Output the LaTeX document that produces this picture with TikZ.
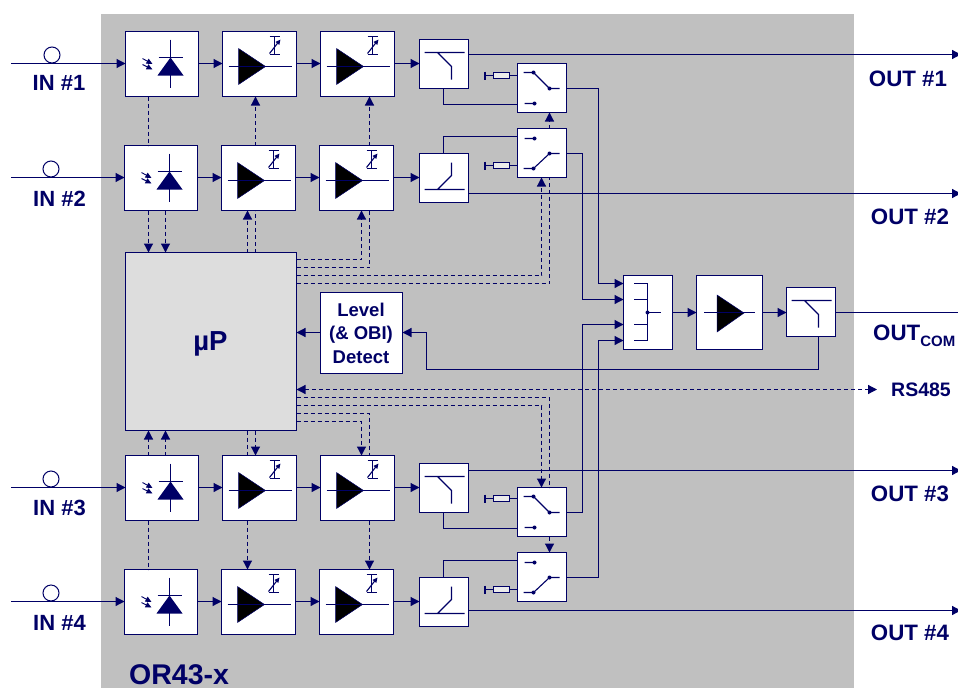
\documentclass[tikz,border=0pt]{standalone}
\usepackage{fontspec}
\setmainfont{Liberation Sans}
\usetikzlibrary{arrows.meta,calc}
\definecolor{navy}{RGB}{0,0,102}
\definecolor{panel}{RGB}{192,192,192}
\definecolor{cpu}{RGB}{221,221,221}
\definecolor{resfill}{RGB}{235,235,235}
\newcommand{\fs}[1]{\fontsize{#1}{#1}\selectfont\bfseries}
\newcommand{\bx}[6][]{\node[blockbox,#1,minimum width=#4pt-#2pt,minimum height=#5pt-#3pt] (#6) at ({(#2+#4)/2+.5},{(#3+#5)/2+.5}) {};}
\tikzset{
  x=1pt,y=-1pt,
  blockbox/.style={draw=navy,fill=white,line width=1.2pt,inner sep=0pt,outer sep=0pt},
  sig/.style={draw=navy,line width=1.2pt},
  thin sig/.style={draw=navy,line width=1.1pt},
  arr/.style={sig,-{Triangle[length=9pt,width=9pt]}},
  dsh/.style={sig,dash pattern=on 4pt off 3pt},
  darr/.style={dsh,-{Triangle[length=9pt,width=9pt]}},
  lbl/.style={text=navy,inner sep=0pt,anchor=base},
  pdsym/.pic={
    \draw[thin sig] (8.5,-24.5)--(8.5,23.5) (-3.5,-6.5)--(20.5,-6.5);
    \fill[navy] (8.5,-6.5)--(21.5,11.5)--(-4.5,11.5)--cycle;
    \draw[draw=navy,line width=.9pt,-{Triangle[length=6pt,width=5.5pt]}] (-19.5,-5.5)--(-9.5,0);
    \draw[draw=navy,line width=.9pt,-{Triangle[length=6pt,width=5.5pt]}] (-19.5,.5)--(-9.5,5.5);
  },
  ampsym/.pic={
    \fill[black,draw=navy,line width=.5pt] (-21,-15.5)--(6,2.5)--(-21,20.5)--cycle;
    \draw[thin sig] (-31,2.5)--(32,2.5);
    \draw[thin sig] (10,-27.5)--(20,-27.5) (15,-27.5)--(15,-9.5) (10,-9.5)--(20,-9.5);
    \draw[thin sig,-{Triangle[length=5pt,width=4.5pt]}] (10,-10.5)--(21,-24.5);
  },
  splitdn/.pic={
    \draw[thin sig] (-19.5,-11.5)--(20.5,-11.5) (-6.5,-11.5)--(7.5,2.5)--(7.5,15.5);
  },
  splitup/.pic={
    \draw[thin sig] (-19.5,11.5)--(20.5,11.5) (-6.5,11.5)--(7.5,-2.5)--(7.5,-15.5);
  },
  swdn/.pic={
    \draw[thin sig] (-18.5,-15.5)--(-8.5,-15.5)--(7.5,.5)--(17.5,.5) (-17.5,15.5)--(-7.5,15.5);
    \fill[navy] (-8.5,-15.5) circle (2) (7.5,.5) circle (2) (-7.5,15.5) circle (2);
  },
  swup/.pic={
    \draw[thin sig] (-18.5,15.5)--(-8.5,15.5)--(7.5,.5)--(17.5,.5) (-17.5,-14.5)--(-7.5,-14.5);
    \fill[navy] (-8.5,15.5) circle (2) (7.5,.5) circle (2) (-7.5,-14.5) circle (2);
  },
  resbox/.style={draw=navy,fill=resfill,line width=1.1pt,inner sep=0pt,outer sep=0pt,minimum width=16pt,minimum height=6pt},
  port/.style={circle,draw=navy,line width=1pt,fill=white,inner sep=0pt,outer sep=0pt,minimum size=16pt},
}
\begin{document}
\begin{tikzpicture}
\useasboundingbox (0,0) rectangle (958,688);
\clip (0,0) rectangle (958,688);
\fill[panel] (101,14) rectangle (854,688);

% blocks
\bx{125}{31}{198}{96}{pd1} \bx{222}{31}{296}{96}{a1} \bx{320}{31}{394}{96}{b1}
\bx{124}{145}{197}{210}{pd2} \bx{221}{145}{295}{210}{a2} \bx{319}{145}{393}{210}{b2}
\bx{125}{455}{198}{520}{pd3} \bx{222}{455}{296}{520}{a3} \bx{320}{455}{394}{520}{b3}
\bx{124}{569}{197}{634}{pd4} \bx{221}{569}{295}{634}{a4} \bx{319}{569}{393}{634}{b4}
\bx{419}{39}{468}{88}{sp1} \bx{419}{153}{468}{202}{sp2} \bx{419}{463}{468}{512}{sp3} \bx{419}{577}{468}{626}{sp4}
\bx{517}{63}{566}{112}{sw1} \bx{517}{128}{566}{177}{sw2} \bx{517}{487}{566}{536}{sw3} \bx{517}{552}{566}{601}{sw4}
\bx{623}{275}{672}{349}{comb} \bx{696}{275}{762}{349}{ampc} \bx{786}{287}{835}{336}{spc}
\bx[fill=cpu]{125}{252}{296}{430}{up}
\bx{320}{292}{402}{373}{lev}

% symbols
\foreach \n in {pd1,pd2,pd3,pd4} \pic at (\n.center) {pdsym};
\foreach \n in {a1,b1,a2,b2,a3,b3,a4,b4} \pic at (\n.center) {ampsym};
\pic at (sp1.center) {splitdn}; \pic at (sp3.center) {splitdn}; \pic at (spc.center) {splitdn};
\pic at (sp2.center) {splitup}; \pic at (sp4.center) {splitup};
\pic at (sw1.center) {swdn}; \pic at (sw3.center) {swdn};
\pic at (sw2.center) {swup}; \pic at (sw4.center) {swup};
\draw[thin sig] (634,283.5)--(647.5,283.5) (634,299.5)--(647.5,299.5) (634,324.5)--(647.5,324.5) (634,340.5)--(647.5,340.5)
  (647.5,283.5)--(647.5,340.5) (647.5,312.5)--(661,312.5);
\fill[navy] (647.5,312.5) circle (2);
\fill[black,draw=navy,line width=.5pt] (717,295)--(744,313)--(717,332)--cycle;
\draw[thin sig] (704,312.5)--(755,312.5);

% resistors
\foreach \i/\ya in {1/75.5,2/165.5,3/498.5,4/589.5}{
  \node[resbox] (r\i) at (501.5,\ya) {};
  \draw[sig] (r\i.west)--++(-9,0);
  \draw[navy,line width=2pt] ($(r\i.west)+(-9,-4)$)--($(r\i.west)+(-9,4)$);
  \draw[sig] (r\i.east)--(sw\i.west|-r\i.east);
}

% inputs
\foreach \i/\y/\cx in {1/63.5/52,2/177.5/51,3/487.5/51,4/601.5/51}{
  \coordinate (in\i) at (11,\y);
  \node[port] (c\i) at (\cx,\y-8.5) {};
  \draw[arr] (in\i)--(pd\i.west|-in\i);
  \draw[arr] (pd\i.east|-in\i)--(a\i.west|-in\i);
  \draw[arr] (a\i.east|-in\i)--(b\i.west|-in\i);
  \draw[arr] (b\i.east|-in\i)--(sp\i.west|-in\i);
}
% outputs
\foreach \i/\y in {1/54.5,2/193.5,3/470.5,4/610.5}{
  \coordinate (out\i) at (961,\y);
  \draw[arr] (sp\i.east|-out\i)--(out\i);
}
\coordinate (outc) at (958,312.5);
\draw[sig] (spc.east|-outc)--(outc);

% splitter to switch
\draw[sig] (443.5,0|-sp1.south)|-(sw1.west|-0,104.5);
\draw[sig] (443.5,0|-sp2.north)|-(sw2.west|-0,136.5);
\draw[sig] (443.5,0|-sp3.south)|-(sw3.west|-0,528.5);
\draw[sig] (443.5,0|-sp4.north)|-(sw4.west|-0,560.5);

% switch to combiner
\draw[arr] (sw1.east|-0,88.5)-|(598.5,283.5)--(comb.west|-0,283.5);
\draw[arr] (sw2.east|-0,153.5)-|(582.5,299.5)--(comb.west|-0,299.5);
\draw[arr] (sw3.east|-0,512.5)-|(582.5,324.5)--(comb.west|-0,324.5);
\draw[arr] (sw4.east|-0,577.5)-|(598.5,340.5)--(comb.west|-0,340.5);

\draw[arr] (comb.east)--(ampc.west);
\draw[arr] (ampc.east)--(spc.west|-ampc.east);
\draw[arr] (818.5,0|-spc.south)|-(426.5,369.5)|-(lev.east|-0,332.5);
\draw[arr] (lev.west|-0,332.5)--(up.east|-0,332.5);

% RS485
\coordinate (rs) at (877,389.5);
\draw[dsh,{Triangle[length=9pt,width=9pt]}-{Triangle[length=9pt,width=9pt]}] (up.east|-rs)--(rs);

% control, top
\draw[dsh] (148.5,0|-pd1.south)--(148.5,0|-pd2.north);
\draw[darr] (148.5,0|-pd2.south)--(148.5,0|-up.north);
\draw[darr] (165.5,0|-pd2.south)--(165.5,0|-up.north);
\draw[darr] (247.5,0|-up.north)--(247.5,0|-a2.south);
\draw[dsh] (255.5,0|-up.north)--(255.5,0|-a2.south);
\draw[darr] (255.5,0|-a2.north)--(255.5,0|-a1.south);
\draw[darr] (up.east|-0,259.5)-|(361.5,0|-b2.south);
\draw[dsh] (up.east|-0,267.5)-|(369.5,0|-b2.south);
\draw[darr] (369.5,0|-b2.north)--(369.5,0|-b1.south);
\draw[darr] (up.east|-0,275.5)-|(541.5,0|-sw2.south);
\draw[dsh] (up.east|-0,283.5)-|(549.5,0|-sw2.south);
\draw[darr] (549.5,0|-sw2.north)--(549.5,0|-sw1.south);

% control, bottom
\draw[dsh] (148.5,0|-pd3.south)--(148.5,0|-pd4.north);
\draw[darr] (148.5,0|-pd3.north)--(148.5,0|-up.south);
\draw[darr] (165.5,0|-pd3.north)--(165.5,0|-up.south);
\draw[dsh] (247.5,0|-up.south)--(247.5,0|-a3.north);
\draw[darr] (255.5,0|-up.south)--(255.5,0|-a3.north);
\draw[darr] (247.5,0|-a3.south)--(247.5,0|-a4.north);
\draw[darr] (up.east|-0,421.5)-|(361.5,0|-b3.north);
\draw[dsh] (up.east|-0,413.5)-|(369.5,0|-b3.north);
\draw[darr] (369.5,0|-b3.south)--(369.5,0|-b4.north);
\draw[darr] (up.east|-0,405.5)-|(541.5,0|-sw3.north);
\draw[dsh] (up.east|-0,397.5)-|(549.5,0|-sw3.north);
\draw[darr] (549.5,0|-sw3.south)--(549.5,0|-sw4.north);

% text
\node[lbl,font=\fs{22}] (t1) at (59,90.5) {IN \#1};
\node[lbl,font=\fs{22}] (t2) at (59.5,206) {IN \#2};
\node[lbl,font=\fs{22}] (t3) at (59.5,515) {IN \#3};
\node[lbl,font=\fs{22}] (t4) at (59.5,630) {IN \#4};
\node[lbl,font=\fs{22.3}] (o1) at (908,86) {OUT \#1};
\node[lbl,font=\fs{22.3}] (o2) at (910,224) {OUT \#2};
\node[lbl,font=\fs{22.3}] (o3) at (910,501) {OUT \#3};
\node[lbl,font=\fs{22.3}] (o4) at (910,640) {OUT \#4};
\node[lbl,font=\fs{22.3},anchor=base west] (oc) at (873,340) {OUT\raisebox{-6pt}{\fs{15}COM}};
\node[lbl,font=\fs{19.5},anchor=base west] (rst) at (891,396) {RS485};
\node[lbl,font=\fs{27.5}] (mup) at (210.5,350) {µP};
\node[lbl,font=\fs{18.5}] (lv1) at (361,316.5) {Level};
\node[lbl,font=\fs{18.5}] (lv2) at (361,339.5) {(\& OBI)};
\node[lbl,font=\fs{18.5}] (lv3) at (361,363) {Detect};
\node[lbl,font=\fs{28.5},anchor=base west] (nm) at (129,684.5) {OR43-x};
\end{tikzpicture}
\end{document}
